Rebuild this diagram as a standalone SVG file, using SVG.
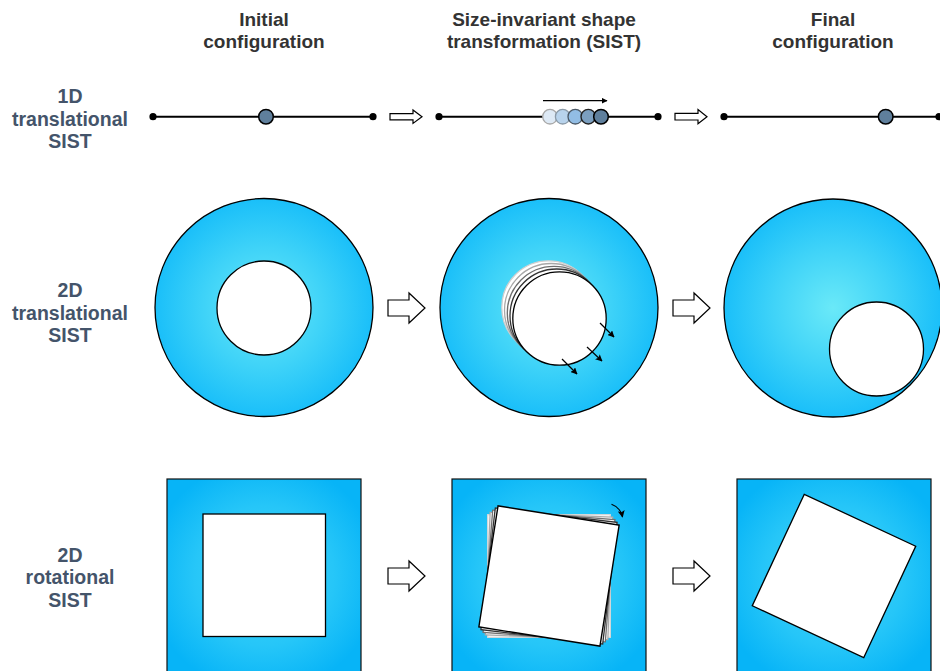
<svg xmlns="http://www.w3.org/2000/svg" width="940" height="671" viewBox="0 0 940 671">
<defs>
<radialGradient id="gc" cx="50%" cy="50%" r="50%">
<stop offset="0" stop-color="#6ae9f8"/>
<stop offset="0.55" stop-color="#3fd3f8"/>
<stop offset="1" stop-color="#1abff9"/>
</radialGradient>
<radialGradient id="gs" cx="50%" cy="50%" r="60%">
<stop offset="0" stop-color="#40d6f8"/>
<stop offset="0.6" stop-color="#26c6f8"/>
<stop offset="1" stop-color="#07b4f7"/>
</radialGradient>
<marker id="ah" viewBox="0 0 10 10" refX="9" refY="5" markerWidth="6" markerHeight="6" orient="auto" markerUnits="userSpaceOnUse">
<path d="M0,0 L10,5 L0,10 Z" fill="#000"/>
</marker>
<marker id="ah2" viewBox="0 0 10 10" refX="9" refY="5" markerWidth="7" markerHeight="7" orient="auto" markerUnits="userSpaceOnUse">
<path d="M0,0 L10,5 L0,10 L2,5 Z" fill="#000"/>
</marker>
</defs>
<style>
.hd{font-family:"Liberation Sans",Arial,sans-serif;font-weight:bold;font-size:19px;fill:#333;text-anchor:middle}
.rl{font-family:"Liberation Sans",Arial,sans-serif;font-weight:bold;font-size:19.5px;fill:#44546a;text-anchor:middle}
.ln{stroke:#000;stroke-width:2;fill:none}
.dot{fill:#000}
.ball{fill:#5f7f9c;stroke:#000;stroke-width:1.5}
.hollow{fill:#fff;stroke:#000;stroke-width:1.2;stroke-linejoin:miter}
.ring{fill:url(#gc);stroke:#000;stroke-width:1.3}
.sq{fill:url(#gs);stroke:#111;stroke-width:1.2}
.hole{fill:#fff;stroke:#000;stroke-width:1.3}
.small{stroke:#000;stroke-width:1.2;fill:none}
</style>

<g id="headers">
<text class="hd" x="264" y="26">Initial</text>
<text class="hd" x="264" y="48">configuration</text>
<text class="hd" x="544" y="26">Size-invariant shape</text>
<text class="hd" x="544" y="48">transformation (SIST)</text>
<text class="hd" x="833" y="26">Final</text>
<text class="hd" x="833" y="48">configuration</text>
</g>

<g id="row-labels">
<text class="rl" x="70" y="103">1D</text>
<text class="rl" x="70" y="126">translational</text>
<text class="rl" x="70" y="148">SIST</text>
<text class="rl" x="70" y="297">2D</text>
<text class="rl" x="70" y="320">translational</text>
<text class="rl" x="70" y="342">SIST</text>
<text class="rl" x="70" y="562">2D</text>
<text class="rl" x="70" y="584">rotational</text>
<text class="rl" x="70" y="607">SIST</text>
</g>

<g id="r1-initial">
<line class="ln" x1="153" y1="116.7" x2="373" y2="116.7"/>
<circle class="dot" cx="153" cy="116.7" r="3.6"/>
<circle class="dot" cx="373" cy="116.7" r="3.6"/>
<circle class="ball" cx="266" cy="116.7" r="7.3"/>
</g>

<g id="r1-sist">
<line class="ln" x1="439" y1="116.7" x2="658" y2="116.7"/>
<circle class="dot" cx="439" cy="116.7" r="3.6"/>
<circle class="dot" cx="658" cy="116.7" r="3.6"/>
<circle cx="550" cy="116.7" r="7.3" fill="#dde9f5" stroke="#a8a8a8" stroke-width="1.3"/>
<circle cx="562.7" cy="116.7" r="7.3" fill="#b8d3ec" stroke="#8a9aa8" stroke-width="1.3"/>
<circle cx="575.3" cy="116.7" r="7.3" fill="#92bde4" stroke="#4a5866" stroke-width="1.3"/>
<circle cx="588.3" cy="116.7" r="7.3" fill="#7b9fc0" stroke="#222" stroke-width="1.4"/>
<circle cx="601" cy="116.7" r="7.3" fill="#5f7f9c" stroke="#000" stroke-width="1.5"/>
</g>

<g id="r1-final">
<line class="ln" x1="724" y1="116.7" x2="940" y2="116.7"/>
<circle class="dot" cx="724" cy="116.7" r="3.6"/>
<circle class="dot" cx="939" cy="116.7" r="3.6"/>
<circle class="ball" cx="885.7" cy="116.7" r="7.3"/>
</g>

<g id="r2-initial">
<circle class="ring" cx="264" cy="307.5" r="109"/>
<circle class="hole" cx="264" cy="308" r="47"/>
</g>

<g id="r2-sist">
<circle class="ring" cx="549" cy="307.5" r="109"/>
<circle cx="548.5" cy="307.5" r="46.7" fill="#fff" stroke="#d0d0d0" stroke-width="1.3"/>
<circle cx="551.2" cy="310.2" r="46.7" fill="#fff" stroke="#a8a8a8" stroke-width="1.3"/>
<circle cx="554" cy="313" r="46.7" fill="#fff" stroke="#6e6e6e" stroke-width="1.3"/>
<circle cx="556.7" cy="315.7" r="46.7" fill="#fff" stroke="#333" stroke-width="1.3"/>
<circle cx="559.5" cy="318.5" r="46.7" fill="#fff" stroke="#000" stroke-width="1.3"/>
</g>

<g id="r2-final">
<circle class="ring" cx="833" cy="308" r="109"/>
<circle class="hole" cx="876.5" cy="349" r="47"/>
</g>

<g id="r3-initial">
<rect class="sq" x="167" y="479" width="194" height="194"/>
<rect class="hole" x="203" y="514" width="122.5" height="122.5"/>
</g>

<g id="r3-sist">
<rect class="sq" x="452" y="479" width="194" height="194"/>
<g transform="translate(549 576)">
<rect x="-61.3" y="-61.3" width="122.6" height="122.6" fill="#fff" stroke="#d8d8d8" stroke-width="1.3"/>
<rect x="-61.3" y="-61.3" width="122.6" height="122.6" fill="#fff" stroke="#aaa" stroke-width="1.3" transform="rotate(2.25)"/>
<rect x="-61.3" y="-61.3" width="122.6" height="122.6" fill="#fff" stroke="#707070" stroke-width="1.3" transform="rotate(4.5)"/>
<rect x="-61.3" y="-61.3" width="122.6" height="122.6" fill="#fff" stroke="#333" stroke-width="1.3" transform="rotate(6.75)"/>
<rect x="-61.3" y="-61.3" width="122.6" height="122.6" fill="#fff" stroke="#000" stroke-width="1.4" transform="rotate(9)"/>
</g>
</g>

<g id="r3-final">
<rect class="sq" x="737" y="479" width="194" height="194"/>
<rect class="hole" x="-61.5" y="-61.5" width="123" height="123" transform="translate(834 576) rotate(25)"/>
</g>

<g id="connectors">
<path class="hollow" d="M390,113.6 H413 V110 L422,116.7 L413,123.4 V119.8 H390 Z"/>
<path class="hollow" d="M675,113.4 H698 V109.6 L707,116.7 L698,123.8 V120 H675 Z"/>
<path class="hollow" d="M388,300 H409 V293 L425,308 L409,323 V316 H388 Z"/>
<path class="hollow" d="M673,300 H694 V293 L710,308 L694,323 V316 H673 Z"/>
<path class="hollow" d="M388,568 H409 V561 L425,576 L409,591 V584 H388 Z"/>
<path class="hollow" d="M673,568 H694 V561 L710,576 L694,591 V584 H673 Z"/>
<line class="small" x1="543" y1="100.7" x2="607" y2="100.7" marker-end="url(#ah)"/>
<line class="small" x1="600" y1="323" x2="614" y2="337" marker-end="url(#ah2)"/>
<line class="small" x1="587" y1="347" x2="602" y2="361" marker-end="url(#ah2)"/>
<line class="small" x1="562" y1="359" x2="577" y2="374" marker-end="url(#ah2)"/>
<path class="small" d="M611.5,504.3 Q620.5,507.5 622.5,517" marker-end="url(#ah2)"/>
</g>
</svg>
